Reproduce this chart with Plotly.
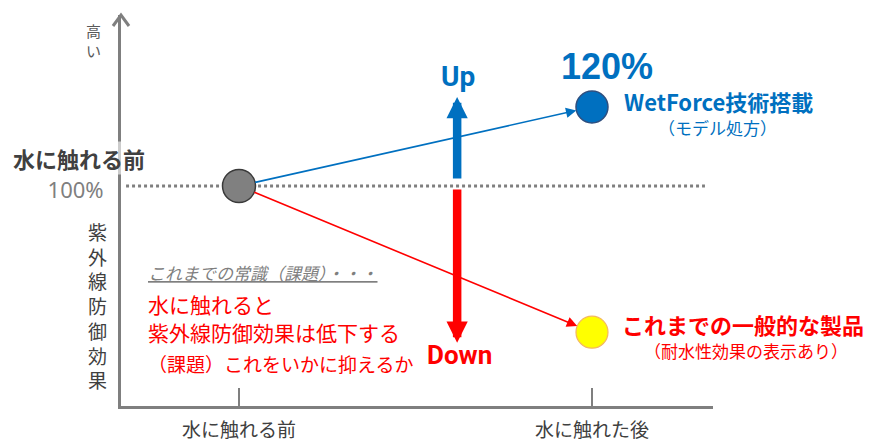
import plotly.graph_objects as go

# ---- data ----
categories = ["水に触れる前", "水に触れた後"]
x_pos = [0, 1]
before_value = [100]          # 水に触れる前 (100%)
wetforce_value = [120]        # WetForce技術搭載 (120%)
general_value = [63]          # これまでの一般的な製品 (estimated)
y_tick_vals = [100]
y_tick_text = ["100%"]
up_arrow = [101.5, 122.5]
down_arrow = [99.5, 60.3]
arrow_x = 0.618
y_title_chars = list("紫外線防御効果")
high_chars = ["高", "い"]

W, H = 872, 443
L, R, T, B = 121, 159, 15, 37
PW, PH = W - L - R, H - T - B

def px(x):
    return (x - L) / PW

def py(y):
    return (H - B - y) / PH

BLUE = "#0070C0"
RED = "#FF0000"
GRAY = "#7F7F7F"
DARK = "#404040"
JP = "Noto Sans CJK JP"

fig = go.Figure()

fig.add_trace(go.Scatter(x=[x_pos[0]], y=before_value, mode="markers",
                         marker=dict(size=33, color="#808080", line=dict(color="#3A3A3A", width=1.5)),
                         showlegend=False, hoverinfo="skip"))
fig.add_trace(go.Scatter(x=[x_pos[1]], y=wetforce_value, mode="markers",
                         marker=dict(size=32, color=BLUE, line=dict(color="#2F4F7F", width=1.5)),
                         showlegend=False, hoverinfo="skip"))
fig.add_trace(go.Scatter(x=[x_pos[1]], y=general_value, mode="markers",
                         marker=dict(size=32, color="#FFFF00", line=dict(color="#F4B860", width=1.2)),
                         showlegend=False, hoverinfo="skip"))

# dotted 100% reference line
fig.add_shape(type="line", xref="x", yref="y", x0=-0.32, x1=1.32,
              y0=before_value[0], y1=before_value[0],
              line=dict(color=GRAY, width=3, dash="dot"), layer="below")

# open chevron at the top of the y axis
fig.add_shape(type="path", xref="paper", yref="paper", xsizemode="pixel", ysizemode="pixel",
              xanchor=0, yanchor=1, path="M-8,-11 L0,0 L8,-11",
              line=dict(color=GRAY, width=3))

ann = []
# lines with arrowheads from the before point
ann.append(dict(x=x_pos[1], y=wetforce_value[0], ax=x_pos[0], ay=before_value[0],
                xref="x", yref="y", axref="x", ayref="y", text="", showarrow=True,
                arrowhead=2, arrowsize=1.3, arrowwidth=1.6, arrowcolor=BLUE,
                standoff=16, startstandoff=15))
ann.append(dict(x=x_pos[1], y=general_value[0], ax=x_pos[0], ay=before_value[0],
                xref="x", yref="y", axref="x", ayref="y", text="", showarrow=True,
                arrowhead=2, arrowsize=1.3, arrowwidth=1.6, arrowcolor=RED,
                standoff=16, startstandoff=15))
# big up / down arrows
ann.append(dict(x=arrow_x, y=up_arrow[1], ax=arrow_x, ay=up_arrow[0],
                xref="x", yref="y", axref="x", ayref="y", text="", showarrow=True,
                arrowhead=2, arrowsize=0.5, arrowwidth=8.5, arrowcolor=BLUE))
ann.append(dict(x=arrow_x, y=down_arrow[1], ax=arrow_x, ay=down_arrow[0],
                xref="x", yref="y", axref="x", ayref="y", text="", showarrow=True,
                arrowhead=2, arrowsize=0.5, arrowwidth=8.5, arrowcolor=RED))

def txt(x, y, s, size, color, bold=False, family=JP, xanchor="center", **kw):
    if bold:
        s = "<b>" + s + "</b>"
    d = dict(x=px(x), y=py(y), xref="paper", yref="paper", text=s, showarrow=False,
             font=dict(family=family, size=size, color=color),
             xanchor=xanchor, yanchor="middle")
    d.update(kw)
    ann.append(d)

NARROW = "Liberation Sans Narrow, Arial Narrow, Roboto"
txt(458, 76, "Up", 28, BLUE, bold=True, family=NARROW)
txt(459, 355, "Down", 26, RED, bold=True, family=NARROW)
txt(607, 66, "120%", 36, BLUE, bold=True, family="Liberation Sans, Arial")
txt(718, 101, "WetForce技術搭載", 22, BLUE, bold=True)
txt(717, 128, "（モデル処方）", 17, BLUE)
txt(743, 324, "これまでの一般的な製品", 22, RED, bold=True)
txt(746, 350, "（耐水性効果の表示あり）", 17, RED)

txt(79, 158, "水に触れる前", 22, DARK, bold=True, bgcolor="rgba(255,255,255,0.6)", borderpad=0)
for i, ch in enumerate(high_chars):
    txt(93, 30 + 20.5 * i, ch, 15, "#595959", borderpad=0)
txt(97, 305, "<br>".join(y_title_chars), 19, DARK)

txt(146, 272, "<i><u>これまでの常識（課題）・・・</u></i>", 17, GRAY, xanchor="left")
txt(146, 303.5, "水に触れると", 21, RED, xanchor="left")
txt(146, 332, "紫外線防御効果は低下する", 21, RED, xanchor="left")
txt(146, 363, "（課題）これをいかに抑えるか", 19, RED, xanchor="left")

fig.update_layout(
    width=W, height=H, margin=dict(l=L, r=R, t=T, b=B, autoexpand=False),
    paper_bgcolor="white", plot_bgcolor="white",
    annotations=ann,
    xaxis=dict(range=[-0.3343, 1.3428], tickvals=x_pos, ticktext=categories,
               showline=True, linecolor=GRAY, linewidth=3, ticks="inside",
               ticklen=18, tickwidth=2, tickcolor=GRAY, showgrid=False, zeroline=False,
               tickfont=dict(family=JP, size=19, color=DARK), ticklabelstandoff=5,
               automargin=False, fixedrange=True),
    yaxis=dict(range=[44.30, 143.29], tickvals=y_tick_vals, ticktext=y_tick_text,
               showline=True, linecolor=GRAY, linewidth=3, ticks="", showgrid=False,
               zeroline=False,
               tickfont=dict(family="Noto Sans, " + JP, size=22, color=GRAY),
               ticklabelstandoff=10, ticklabelshift=4, automargin=False, fixedrange=True),
)

fig.write_html("out.html")
